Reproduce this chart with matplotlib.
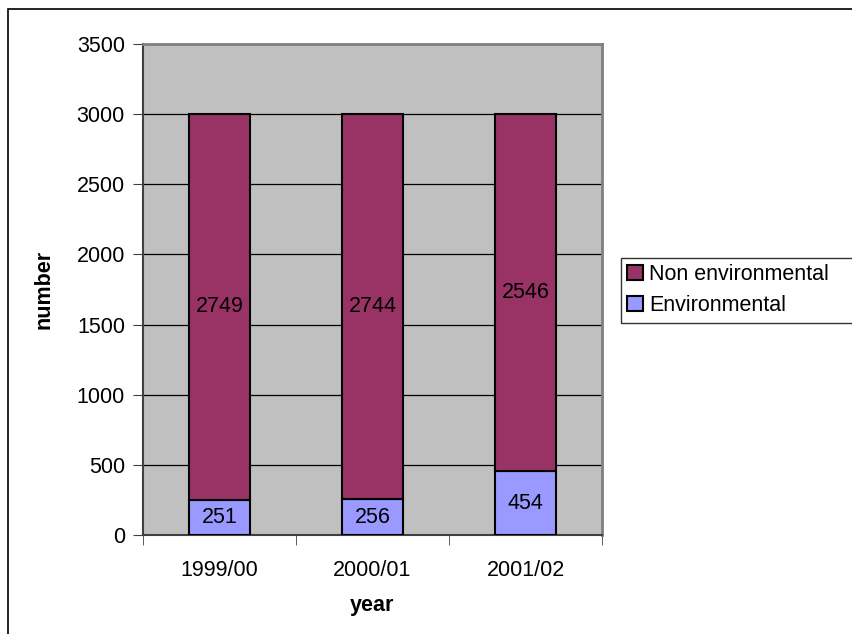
import matplotlib.pyplot as plt
from matplotlib.patches import Rectangle

plt.rcParams["font.family"] = ["Liberation Sans", "DejaVu Sans"]

years = ["1999/00", "2000/01", "2001/02"]
environmental = [251, 256, 454]
non_environmental = [2749, 2744, 2546]

col_env = "#9999FF"
col_non = "#993366"
fs = 15.5

fig = plt.figure(figsize=(8.52, 6.34), dpi=100)
fig.patches.append(Rectangle((8 / 852, -0.1), 1.2, 1.1 - 9 / 634,
                             transform=fig.transFigure, fill=False,
                             edgecolor="black", linewidth=1.2))

ax = fig.add_axes([143 / 852, 99 / 634, 459 / 852, 491 / 634])
ax.set_facecolor("#C0C0C0")

x = list(range(len(years)))
w = 0.405
b1 = ax.bar(x, environmental, w, color=col_env, edgecolor="black",
            linewidth=1.5, label="Environmental", zorder=3)
b2 = ax.bar(x, non_environmental, w, bottom=environmental, color=col_non,
            edgecolor="black", linewidth=1.5, label="Non environmental",
            zorder=3)

for i in x:
    ax.text(i, environmental[i] / 2, str(environmental[i]), ha="center",
            va="center", fontsize=fs, zorder=4)
    ax.text(i, environmental[i] + non_environmental[i] / 2,
            str(non_environmental[i]), ha="center", va="center",
            fontsize=fs, zorder=4)

ax.set_xlim(-0.5, 2.5)
ax.set_ylim(0, 3500)
ax.set_yticks(range(0, 3501, 500))
ax.yaxis.grid(True, color="black", linewidth=0.9, zorder=1)
ax.set_axisbelow(True)

ax.set_xticks(x)
ax.set_xticklabels(years, fontsize=fs)
ax.tick_params(axis="x", length=0, pad=18)
ax.set_xticks([-0.5, 0.5, 1.5, 2.5], minor=True)
ax.tick_params(axis="x", which="minor", length=7, color="#404040")
ax.tick_params(axis="y", labelsize=fs, length=7, color="#404040", pad=6)

for s in ["top", "right"]:
    ax.spines[s].set_color("#808080")
    ax.spines[s].set_linewidth(2)
ax.spines["left"].set_color("#404040")
ax.spines["left"].set_linewidth(1.5)
ax.spines["bottom"].set_color("#404040")
ax.spines["bottom"].set_linewidth(1.5)

ax.set_ylabel("number", fontsize=fs, fontweight="bold", labelpad=16)
ax.set_xlabel("year", fontsize=fs, fontweight="bold", labelpad=10)

leg = ax.legend(handles=[b2, b1], loc="upper left",
                bbox_to_anchor=(621 / 852, 1 - 321 / 634, 0.4, 63 / 634),
                bbox_transform=fig.transFigure, mode="expand",
                fontsize=fs, frameon=True, fancybox=False, handlelength=0.7,
                handleheight=0.7, handletextpad=0.3, borderpad=0.3,
                labelspacing=0.45, borderaxespad=0)
leg.get_frame().set_edgecolor("black")
leg.get_frame().set_linewidth(1)

fig.savefig("out.png", dpi=100)
